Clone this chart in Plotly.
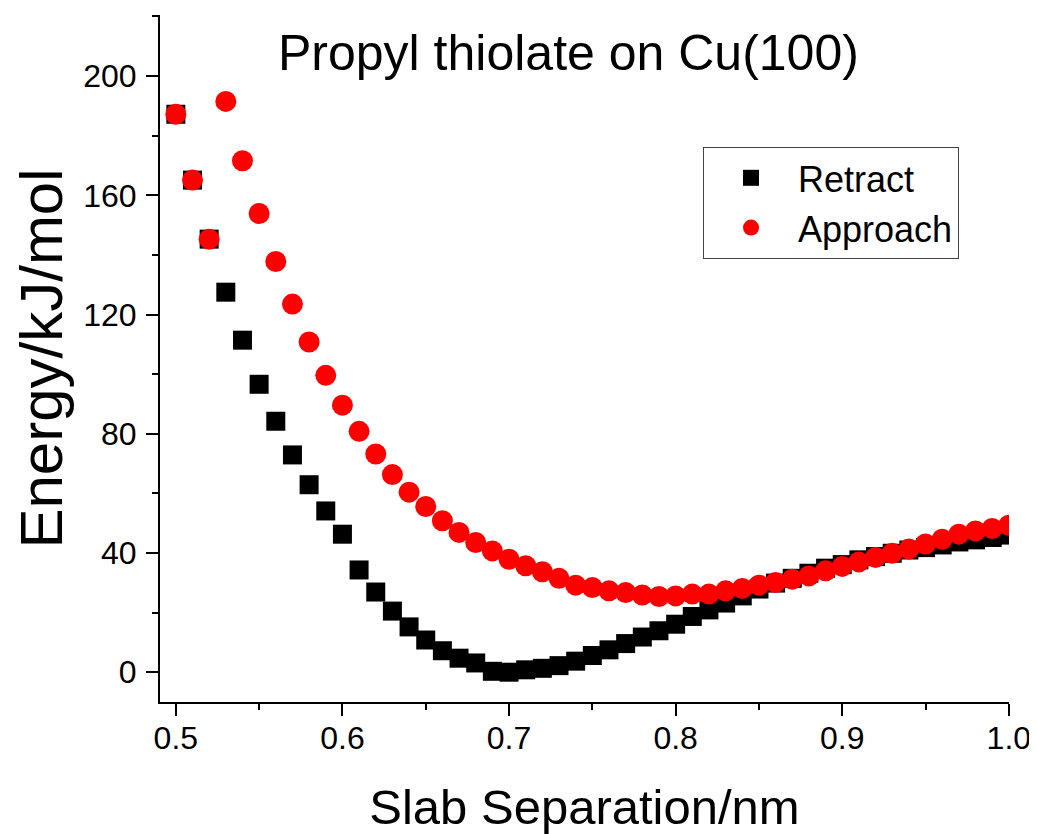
import plotly.graph_objects as go

separation = [0.50, 0.51, 0.52, 0.53, 0.54, 0.55, 0.56, 0.57, 0.58, 0.59,
              0.60, 0.61, 0.62, 0.63, 0.64, 0.65, 0.66, 0.67, 0.68, 0.69,
              0.70, 0.71, 0.72, 0.73, 0.74, 0.75, 0.76, 0.77, 0.78, 0.79,
              0.80, 0.81, 0.82, 0.83, 0.84, 0.85, 0.86, 0.87, 0.88, 0.89,
              0.90, 0.91, 0.92, 0.93, 0.94, 0.95, 0.96, 0.97, 0.98, 0.99, 1.00]

retract = [187.2, 165.1, 145.3, 127.5, 111.4, 96.6, 84.2, 72.9, 62.9, 54.1,
           46.3, 34.3, 26.9, 20.5, 15.2, 10.8, 7.2, 4.7, 3.1, 0.3,
           0.0, 0.8, 1.3, 2.2, 3.7, 5.6, 7.5, 9.6, 11.8, 13.9,
           16.1, 18.7, 20.9, 23.2, 25.6, 27.9, 29.9, 31.5, 33.2, 34.9,
           36.1, 37.7, 38.8, 39.9, 41.0, 41.8, 42.7, 43.7, 44.4, 45.2, 46.0]

approach = [187.2, 165.1, 145.3, 191.5, 171.6, 153.9, 137.8, 123.5, 110.8, 99.6,
            89.6, 80.8, 73.2, 66.3, 60.4, 55.6, 50.8, 46.9, 43.5, 40.7,
            37.9, 35.7, 33.7, 31.5, 29.2, 28.4, 27.3, 26.7, 25.9, 25.4,
            25.6, 26.2, 26.2, 27.3, 28.1, 29.2, 30.1, 31.2, 32.3, 34.0,
            35.5, 37.0, 38.5, 39.9, 41.3, 43.0, 44.6, 46.3, 47.4, 48.2, 49.3]

title_text = "Propyl thiolate on Cu(100)"
x_title = "Slab Separation/nm"
y_title = "Energy/kJ/mol"

FONT = "Arial, Liberation Sans, sans-serif"

fig = go.Figure()
fig.add_trace(go.Scatter(x=separation, y=retract, mode="markers", name="Retract",
                         marker=dict(symbol="square", size=19, color="black",
                                     line=dict(width=0))))
fig.add_trace(go.Scatter(x=separation, y=approach, mode="markers", name="Approach",
                         marker=dict(symbol="circle", size=21, color="#ff0000",
                                     line=dict(width=0))))

axis_common = dict(showline=True, linewidth=2, linecolor="black", showgrid=False,
                   zeroline=False, ticks="outside", ticklen=12, tickwidth=2,
                   tickcolor="black", mirror=False,
                   tickfont=dict(family=FONT, size=32, color="black"))

fig.update_xaxes(range=[0.4905, 1.0001], tick0=0.5, dtick=0.1, tickformat=".1f",
                 minor=dict(ticks="outside", ticklen=6, tickwidth=2, dtick=0.05,
                            tick0=0.5, tickcolor="black"),
                 title=dict(text=x_title, font=dict(family=FONT, size=49, color="black"),
                            standoff=40),
                 ticklabelstandoff=-5,
                 **axis_common)
fig.update_yaxes(range=[-10, 220.5], tick0=0, dtick=40,
                 minor=dict(ticks="outside", ticklen=6, tickwidth=2, dtick=20,
                            tick0=0, tickcolor="black"),
                 title=dict(text=y_title, font=dict(family=FONT, size=60, color="black"),
                            standoff=15),
                 ticklabelstandoff=3,
                 **axis_common)

fig.add_annotation(text=title_text, xref="paper", yref="paper",
                   x=0.4817, y=0.944, xanchor="center", yanchor="middle",
                   showarrow=False, font=dict(family=FONT, size=50, color="black"))

# page body has an 8px default margin, so the figure is sized to fit the window
fig.update_layout(
    width=1029, height=826,
    margin=dict(l=152, r=28, t=7, b=132, autoexpand=False),
    paper_bgcolor="white", plot_bgcolor="white",
    showlegend=True,
    legend=dict(x=0.6396, y=0.808, xanchor="left", yanchor="top",
                bgcolor="white", bordercolor="#444", borderwidth=1,
                font=dict(family=FONT, size=36, color="black"),
                itemwidth=84, tracegroupgap=0),
)

fig.write_html("out.html")
